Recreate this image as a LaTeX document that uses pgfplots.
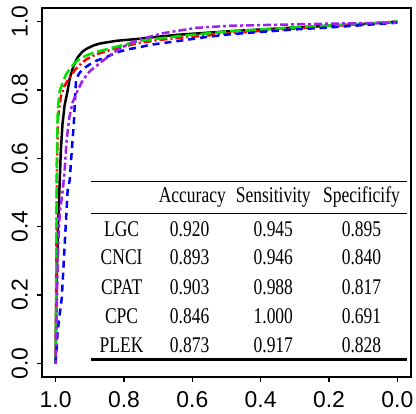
\documentclass[border=0pt]{standalone}
\usepackage{fontspec}
\setmainfont{Liberation Sans}
\newfontfamily\tabfont[FakeStretch=0.78]{Liberation Serif}
\usepackage{pgfplots}
\pgfplotsset{compat=1.18}
\definecolor{rred}{RGB}{255,0,0}
\definecolor{rgreen}{RGB}{0,225,0}
\definecolor{rblue}{RGB}{0,0,255}
\definecolor{rpurple}{RGB}{160,32,240}
\begin{document}
\begin{tikzpicture}
\begin{axis}[
  scale only axis, width=369bp, height=369bp,
  x dir=reverse,
  xmin=-0.04, xmax=1.04, ymin=-0.04, ymax=1.04,
  xtick={0,0.2,0.4,0.6,0.8,1}, ytick={0,0.2,0.4,0.6,0.8,1},
  xtick pos=bottom, ytick pos=left,
  tick align=outside, major tick length=5bp,
  major tick style={black, line width=1.1bp},
  axis line style={line width=1.6bp},
  /pgf/number format/assume math mode=true,
  /pgf/number format/.cd, fixed, fixed zerofill, precision=1, /pgfplots/.cd,
  ticklabel style={font=\fontsize{23}{27}\selectfont},
  xticklabel style={anchor=north, inner sep=0pt},
  yticklabel style={rotate=90, anchor=south, inner sep=0pt},
  xticklabel shift=9bp, yticklabel shift=9bp,
  clip=false,
]
% LGC
\addplot[black, line width=2.5bp] coordinates {
(1,0) (0.998,0.2) (0.993,0.4) (0.988,0.535) (0.985,0.62) (0.98,0.70) (0.974,0.754) (0.965,0.798) (0.959,0.833) (0.948,0.87) (0.936,0.895) (0.922,0.912) (0.909,0.921) (0.89,0.93) (0.871,0.936) (0.822,0.944) (0.754,0.95) (0.70,0.956) (0.637,0.962) (0.55,0.968) (0.49,0.972) (0.40,0.977) (0.3,0.983) (0.2,0.988) (0.1,0.993) (0,1.0)};
% CNCI
\addplot[rred, line width=2.5bp, dash pattern=on 2bp off 3bp on 8bp off 3bp] coordinates {
(1,0) (0.998,0.3) (0.996,0.6) (0.993,0.72) (0.985,0.78) (0.975,0.81) (0.965,0.828) (0.945,0.857) (0.925,0.878) (0.91,0.89) (0.88,0.905) (0.863,0.91) (0.81,0.926) (0.754,0.938) (0.70,0.946) (0.637,0.953) (0.55,0.96) (0.49,0.966) (0.4,0.973) (0.3,0.98) (0.2,0.987) (0.1,0.993) (0,1)};
% CPAT
\addplot[rgreen, line width=2.5bp, dash pattern=on 11bp off 4bp] coordinates {
(1,0) (0.998,0.3) (0.997,0.535) (0.995,0.70) (0.993,0.754) (0.988,0.798) (0.98,0.82) (0.97,0.845) (0.959,0.862) (0.945,0.878) (0.93,0.892) (0.91,0.901) (0.89,0.909) (0.833,0.924) (0.754,0.944) (0.637,0.958) (0.49,0.972) (0.4,0.977) (0.3,0.983) (0.213,0.988) (0.1,0.994) (0,1)};
% CPC
\addplot[rblue, line width=2.5bp, dash pattern=on 7bp off 5bp] coordinates {
(1,0) (0.994,0.096) (0.982,0.193) (0.974,0.34) (0.965,0.506) (0.959,0.535) (0.953,0.62) (0.947,0.70) (0.944,0.76) (0.942,0.80) (0.94,0.833) (0.93,0.85) (0.92,0.862) (0.90,0.875) (0.88,0.886) (0.85,0.897) (0.822,0.91) (0.784,0.92) (0.754,0.925) (0.725,0.932) (0.637,0.944) (0.56,0.955) (0.49,0.963) (0.4,0.97) (0.29,0.978) (0.213,0.982) (0.1,0.99) (0,0.997)};
% PLEK
\addplot[rpurple, line width=2.5bp, dash pattern=on 3bp off 3bp on 8bp off 3bp] coordinates {
(1,0) (0.997,0.146) (0.994,0.3) (0.99,0.40) (0.988,0.44) (0.98,0.50) (0.974,0.56) (0.968,0.652) (0.96,0.72) (0.95,0.765) (0.935,0.80) (0.92,0.83) (0.90,0.855) (0.863,0.885) (0.822,0.915) (0.784,0.936) (0.754,0.948) (0.687,0.966) (0.588,0.982) (0.49,0.988) (0.213,0.994) (0,0.997)};
% table
\draw[line width=1.6bp] (axis cs:0.898,0.532) -- (axis cs:-0.029,0.532);
\draw[line width=1.2bp] (axis cs:0.898,0.439) -- (axis cs:-0.029,0.439);
\draw[line width=3.2bp] (axis cs:0.898,0.012) -- (axis cs:-0.029,0.012);
\tikzset{tt/.style={font=\tabfont\fontsize{22.5}{26}\selectfont, inner sep=0pt, anchor=center}}
\node[tt] at (axis cs:0.6,0.486) {Accuracy};
\node[tt] at (axis cs:0.363,0.486) {Sensitivity};
\node[tt] at (axis cs:0.105,0.486) {Specificify};
\node[tt] at (axis cs:0.807,0.392) {LGC};
\node[tt] at (axis cs:0.807,0.310) {CNCI};
\node[tt] at (axis cs:0.807,0.222) {CPAT};
\node[tt] at (axis cs:0.807,0.137) {CPC};
\node[tt] at (axis cs:0.807,0.053) {PLEK};
\node[tt] at (axis cs:0.608,0.392) {0.920};
\node[tt] at (axis cs:0.608,0.310) {0.893};
\node[tt] at (axis cs:0.608,0.222) {0.903};
\node[tt] at (axis cs:0.608,0.137) {0.846};
\node[tt] at (axis cs:0.608,0.053) {0.873};
\node[tt] at (axis cs:0.363,0.392) {0.945};
\node[tt] at (axis cs:0.363,0.310) {0.946};
\node[tt] at (axis cs:0.363,0.222) {0.988};
\node[tt] at (axis cs:0.363,0.137) {1.000};
\node[tt] at (axis cs:0.363,0.053) {0.917};
\node[tt] at (axis cs:0.105,0.392) {0.895};
\node[tt] at (axis cs:0.105,0.310) {0.840};
\node[tt] at (axis cs:0.105,0.222) {0.817};
\node[tt] at (axis cs:0.105,0.137) {0.691};
\node[tt] at (axis cs:0.105,0.053) {0.828};
\end{axis}
\path (current axis.south west) ++(-42bp,-37bp);
\path (current axis.north east) ++(5bp,8bp);
\end{tikzpicture}
\end{document}
